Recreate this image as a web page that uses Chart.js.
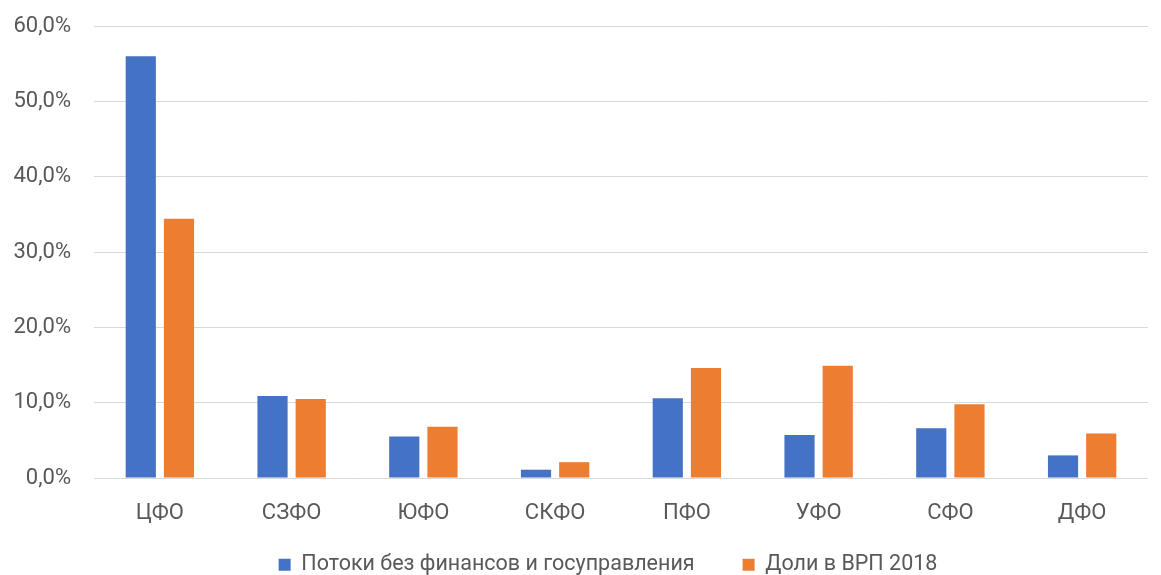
<!DOCTYPE html>
<html>
<head>
<meta charset="utf-8">
<script src="https://cdn.jsdelivr.net/npm/chart.js@4"></script>
<style>
  html, body { margin: 0; padding: 0; background: #fff; }
  #wrap { width: 1161px; height: 575px; }
</style>
</head>
<body>
<div id="wrap"><canvas id="chart"></canvas></div>
<script>
const districts = ['ЦФО', 'СЗФО', 'ЮФО', 'СКФО', 'ПФО', 'УФО', 'СФО', 'ДФО'];
const flowsNoFinance = [56.0, 10.9, 5.5, 1.1, 10.6, 5.7, 6.6, 3.0];
const grpShare2018 = [34.4, 10.5, 6.8, 2.1, 14.6, 14.9, 9.8, 5.9];
const seriesNames = ['Потоки без финансов и госуправления', 'Доли в ВРП 2018'];
const yTicks = [0, 10, 20, 30, 40, 50, 60];

const textColor = '#595959';
const gridColor = '#d9d9d9';
const font = { family: 'Roboto', size: 22 };

Chart.defaults.font.family = font.family;
Chart.defaults.color = textColor;

// legend padding is also the gap between items, so keep the box small and move it afterwards
const legendMove = {
    id: 'legendMove',
    afterLayout(chart) {
        chart.legend.top -= 20;
        chart.legend.left += 34;
        chart.legend.right += 34;
    }
};

const ctx = document.getElementById('chart').getContext('2d');
new Chart(ctx, {
    type: 'bar',
    data: {
        labels: districts,
        datasets: [{
            label: seriesNames[0],
            data: flowsNoFinance,
            backgroundColor: '#4472C4',
            categoryPercentage: 0.58,
            barPercentage: 0.79
        }, {
            label: seriesNames[1],
            data: grpShare2018,
            backgroundColor: '#ED7D31',
            categoryPercentage: 0.58,
            barPercentage: 0.79
        }]
    },
    options: {
        responsive: true,
        maintainAspectRatio: false,
        animation: false,
        layout: { padding: { top: 26, right: 13, left: 0, bottom: 0 } },
        plugins: {
            legend: {
                position: 'bottom',
                maxHeight: 49,
                labels: {
                    font: { family: 'Roboto', size: 21.5 },
                    color: textColor,
                    boxWidth: 12,
                    boxHeight: 12,
                    padding: 48
                }
            },
            tooltip: { enabled: false }
        },
        scales: {
            x: {
                afterFit: s => { s.height = 48; },
                grid: { display: false, drawTicks: false },
                border: { display: false },
                ticks: { font: font, color: textColor, padding: 22 }
            },
            y: {
                min: 0,
                max: 60,
                afterBuildTicks: s => { s.ticks = yTicks.map(v => ({ value: v })); },
                afterFit: s => { s.width = 94; s.paddingTop = 0; s.paddingBottom = 0; },
                grid: { color: gridColor, lineWidth: 1, drawTicks: false },
                border: { display: false },
                ticks: {
                    font: font,
                    color: textColor,
                    padding: 23,
                    callback: v => v.toFixed(1).replace('.', ',') + '%'
                }
            }
        }
    },
    plugins: [legendMove]
});
</script>
</body>
</html>
